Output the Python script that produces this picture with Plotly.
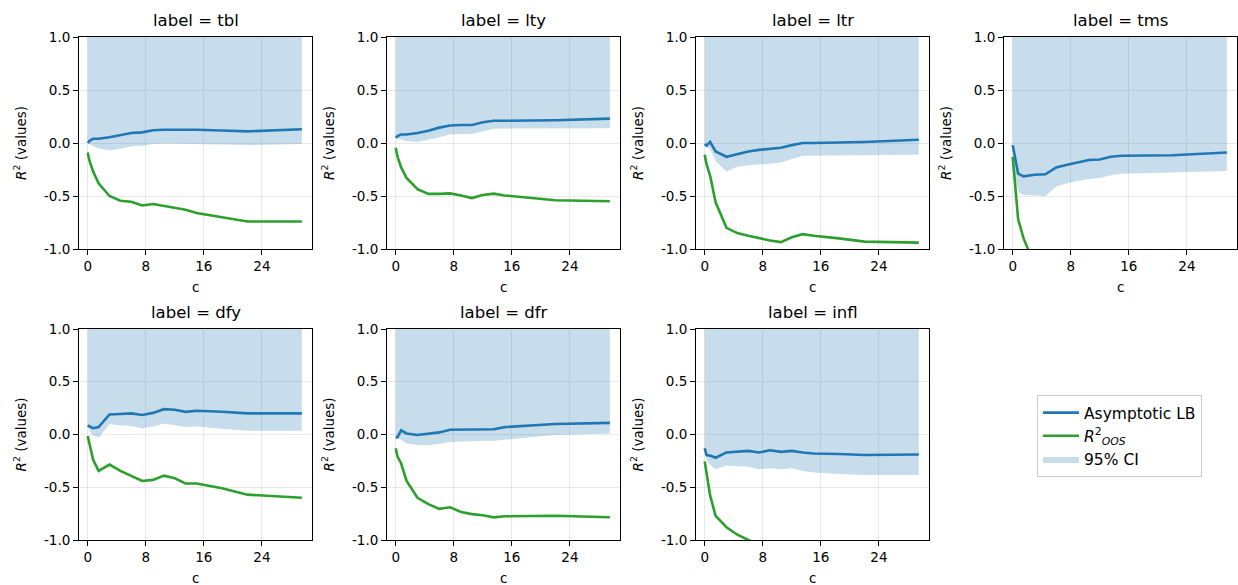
import plotly.graph_objects as go

# ---- data ----
c_vals = [0, 0.25, 0.75, 1.5, 3, 4.5, 6, 7.5, 9, 10.5, 12, 13.5, 15, 18.5, 22, 29.5]
labels = ["tbl", "lty", "ltr", "tms", "dfy", "dfr", "infl"]

asym_lb = {
    "tbl": [0.0, 0.02, 0.04, 0.04, 0.055, 0.075, 0.095, 0.10, 0.12, 0.125, 0.127, 0.128, 0.125, 0.118, 0.11, 0.13],
    "lty": [0.05, 0.065, 0.08, 0.08, 0.095, 0.115, 0.145, 0.165, 0.17, 0.17, 0.195, 0.21, 0.21, 0.212, 0.215, 0.23],
    "ltr": [-0.01, -0.025, 0.01, -0.08, -0.13, -0.105, -0.08, -0.065, -0.055, -0.045, -0.02, 0.0, 0.0, 0.005, 0.01, 0.03],
    "tms": [-0.02, -0.12, -0.29, -0.315, -0.3, -0.295, -0.23, -0.205, -0.18, -0.16, -0.155, -0.13, -0.12, -0.12, -0.115, -0.09],
    "dfy": [0.085, 0.075, 0.06, 0.07, 0.19, 0.195, 0.2, 0.185, 0.205, 0.24, 0.235, 0.215, 0.225, 0.215, 0.2, 0.2],
    "dfr": [-0.03, -0.025, 0.04, 0.01, -0.005, 0.005, 0.02, 0.045, 0.045, 0.05, 0.05, 0.05, 0.07, 0.085, 0.1, 0.11],
    "infl": [-0.13, -0.195, -0.2, -0.22, -0.17, -0.16, -0.155, -0.17, -0.15, -0.165, -0.155, -0.17, -0.18, -0.185, -0.195, -0.19],
}
ci_lower = {
    "tbl": [0.0, -0.01, -0.03, -0.05, -0.07, -0.055, -0.03, -0.025, -0.01, -0.005, -0.005, -0.005, -0.01, -0.015, -0.02, -0.01],
    "lty": [0.05, 0.04, 0.03, 0.02, 0.01, 0.03, 0.055, 0.08, 0.085, 0.085, 0.11, 0.135, 0.135, 0.137, 0.14, 0.14],
    "ltr": [-0.01, -0.03, -0.06, -0.17, -0.27, -0.225, -0.21, -0.2, -0.195, -0.185, -0.15, -0.12, -0.12, -0.115, -0.115, -0.11],
    "tms": [-0.03, -0.28, -0.46, -0.49, -0.495, -0.5, -0.41, -0.38, -0.355, -0.34, -0.33, -0.305, -0.29, -0.285, -0.28, -0.265],
    "dfy": [0.075, 0.03, -0.01, -0.03, 0.1, 0.085, 0.08, 0.06, 0.075, 0.105, 0.09, 0.07, 0.075, 0.055, 0.035, 0.035],
    "dfr": [-0.03, -0.04, -0.05, -0.085, -0.1, -0.1, -0.09, -0.07, -0.07, -0.065, -0.06, -0.06, -0.045, -0.025, -0.005, 0.01],
    "infl": [-0.14, -0.24, -0.29, -0.33, -0.295, -0.3, -0.305, -0.33, -0.32, -0.33, -0.32, -0.345, -0.36, -0.375, -0.385, -0.385],
}
ci_upper = [1.0] * len(c_vals)  # upper band is clipped at the top of the axes
r2_oos = {
    "tbl": [-0.09, -0.17, -0.27, -0.38, -0.5, -0.545, -0.555, -0.59, -0.575, -0.595, -0.615, -0.63, -0.66, -0.70, -0.74, -0.74],
    "lty": [-0.045, -0.13, -0.23, -0.33, -0.435, -0.48, -0.48, -0.475, -0.495, -0.52, -0.49, -0.478, -0.495, -0.515, -0.54, -0.55],
    "ltr": [-0.11, -0.2, -0.31, -0.56, -0.8, -0.85, -0.875, -0.9, -0.92, -0.935, -0.89, -0.86, -0.875, -0.9, -0.93, -0.94],
    "tms": [-0.13, -0.33, -0.72, -0.9, -1.15, -1.3, -1.42, -1.5, -1.55, -1.6, -1.63, -1.66, -1.68, -1.72, -1.75, -1.8],
    "dfy": [-0.015, -0.1, -0.24, -0.345, -0.285, -0.345, -0.39, -0.44, -0.43, -0.39, -0.415, -0.465, -0.465, -0.51, -0.57, -0.6],
    "dfr": [-0.13, -0.21, -0.275, -0.44, -0.6, -0.66, -0.705, -0.69, -0.735, -0.755, -0.765, -0.785, -0.775, -0.775, -0.77, -0.785],
    "infl": [-0.255, -0.37, -0.58, -0.77, -0.88, -0.95, -1.0, -1.04, -1.08, -1.11, -1.14, -1.16, -1.18, -1.22, -1.25, -1.3],
}
x_ticks = [0, 8, 16, 24]
y_ticks = [-1.0, -0.5, 0.0, 0.5, 1.0]
y_ticktext = ["-1.0", "-0.5", "0.0", "0.5", "1.0"]

# ---- layout geometry ----
W, H = 1238, 585
col_px = [(79, 312), (387, 620), (696, 929), (1004, 1237)]
row_px = [(37, 249), (329, 540)]

BLUE = "#1f77b4"
GREEN = "#2ca02c"
FILL = "rgba(31,119,180,0.25)"
FONT = "DejaVu Sans"

fig = go.Figure()
annotations = []

for i, lab in enumerate(labels):
    r, cidx = divmod(i, 4)
    n = i + 1
    xa = "x" if n == 1 else f"x{n}"
    ya = "y" if n == 1 else f"y{n}"
    show = i == 0

    fig.add_trace(go.Scatter(
        x=c_vals + c_vals[::-1], y=ci_upper + ci_lower[lab][::-1],
        fill="toself", fillcolor=FILL, line=dict(width=0), mode="lines",
        name="95% CI", legendrank=3, showlegend=show, hoverinfo="skip",
        xaxis=xa, yaxis=ya))
    fig.add_trace(go.Scatter(
        x=c_vals, y=asym_lb[lab], mode="lines", line=dict(color=BLUE, width=2.6),
        name="Asymptotic LB", legendrank=1, showlegend=show, xaxis=xa, yaxis=ya))
    fig.add_trace(go.Scatter(
        x=c_vals, y=r2_oos[lab], mode="lines", line=dict(color=GREEN, width=2.6),
        name="<i>R</i><sup>2</sup><sub><i>OOS</i></sub>", legendrank=2,
        showlegend=show, xaxis=xa, yaxis=ya))

    x0, x1 = col_px[cidx]
    y0, y1 = row_px[r]
    axis_common = dict(
        showline=True, linecolor="black", linewidth=1, mirror=True,
        ticks="outside", ticklen=5, tickwidth=1, tickcolor="black",
        showgrid=True, gridcolor="#e8e8e8", gridwidth=1, zeroline=False,
        automargin=False,
        tickfont=dict(family=FONT, size=13.5, color="black"),
    )
    fig.layout[f"xaxis{'' if n == 1 else n}"] = dict(
        axis_common, domain=[x0 / W, x1 / W], range=[-1.2, 30.9],
        tickvals=x_ticks, anchor=ya)
    fig.layout[f"yaxis{'' if n == 1 else n}"] = dict(
        axis_common, domain=[1 - y1 / H, 1 - y0 / H], range=[-1.0, 1.0],
        tickvals=y_ticks, ticktext=y_ticktext, anchor=xa)

    dx = f"{xa} domain"
    dy = f"{ya} domain"
    annotations.append(dict(
        text=f"label = {lab}", xref=dx, yref=dy, x=0.5, y=1, yshift=5,
        xanchor="center", yanchor="bottom", showarrow=False,
        font=dict(family=FONT, size=16.5, color="black")))
    annotations.append(dict(
        text="c", xref=dx, yref=dy, x=0.5, y=0, yshift=-28,
        xanchor="center", yanchor="top", showarrow=False,
        font=dict(family=FONT, size=13.5, color="black")))
    annotations.append(dict(
        text="<i>R</i><sup>2</sup> (values)", xref=dx, yref=dy, x=0, y=0.5,
        xshift=-48, xanchor="right", yanchor="middle", textangle=-90,
        showarrow=False, font=dict(family=FONT, size=13.5, color="black")))

fig.update_layout(
    width=W, height=H, margin=dict(l=0, r=0, t=0, b=0),
    paper_bgcolor="white", plot_bgcolor="white",
    annotations=annotations,
    legend=dict(x=1037 / W, y=1 - 395 / H, xanchor="left", yanchor="top",
                bordercolor="#cccccc", borderwidth=1, bgcolor="white",
                font=dict(family=FONT, size=15.5, color="black"),
                itemwidth=36, traceorder="normal"),
    font=dict(family=FONT),
)

fig.write_html("out.html",
               config={"displayModeBar": False},
               post_script="document.body.style.margin='0px';document.body.style.overflow='hidden';")
